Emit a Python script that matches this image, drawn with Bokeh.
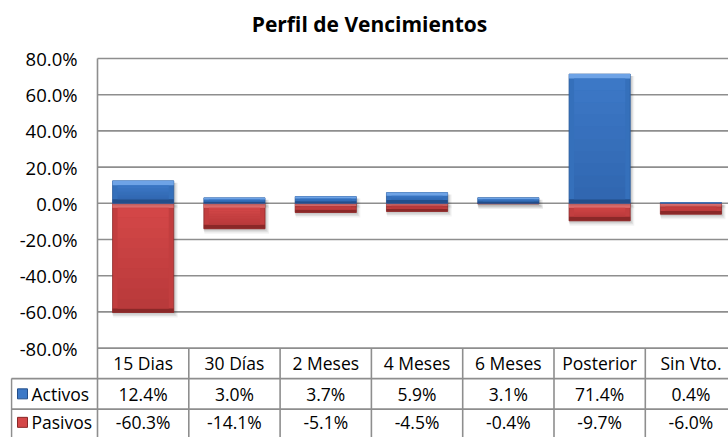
from bokeh.plotting import figure
from bokeh.models import Range1d
from bokeh.embed import file_html
from bokeh.resources import INLINE
from bokeh.core.properties import value
import numpy as np

# ---------------- data ----------------
categories = ["15 Dias", "30 Días", "2 Meses", "4 Meses", "6 Meses", "Posterior", "Sin Vto."]
activos = [12.4, 3.0, 3.7, 5.9, 3.1, 71.4, 0.4]
pasivos = [-60.3, -14.1, -5.1, -4.5, -0.4, -9.7, -6.0]
series_names = ["Activos", "Pasivos"]
y_ticks = [-80, -60, -40, -20, 0, 20, 40, 60, 80]
title_text = "Perfil de Vencimientos"

# ---------------- layout / styles (page pixels; the page has no margin) ----------------
FONT = "Open Sans"
TICK_SIZE = "18.5px"
CELL_SIZE = "17.5px"
GRID = "#8e8e8e"
FIG_W, FIG_H = 728, 437
COLW = 91.3            # px per category column
PXY = 1.81             # px per percentage point
LINE80 = 58            # page px of the 80% line
FRAME_TOP = 45
FRAME_LEFT = 10
AXIS_X = 97
FRAME_RIGHT = FIG_W
FRAME_BOTTOM = FIG_H
ROW_H = 30.5


def ypos(page_y):
    return 80 - (page_y - LINE80) / PXY


def xpos(page_x):
    return (page_x - AXIS_X) / COLW


BLUE = dict(body_hi="#3d79c7", body_lo="#3066b0", light="#6ea3e6",
            side="#3570bb", bottom="#234e8a", edge="#2a5a9c")
RED = dict(body_hi="#d44748", body_lo="#b8393a", light="#f27878",
           side="#c23e3f", bottom="#8a2828", edge="#8f2c2c")

n = len(categories)
xc = np.arange(n) + 0.5
bw = 0.67

p = figure(width=FIG_W, height=FIG_H, output_backend="svg", toolbar_location=None,
           x_range=Range1d(xpos(FRAME_LEFT), xpos(FRAME_RIGHT)),
           y_range=Range1d(ypos(FRAME_BOTTOM), ypos(FRAME_TOP)),
           x_axis_location=None, y_axis_location=None,
           min_border_left=FRAME_LEFT, min_border_right=0,
           min_border_top=FRAME_TOP, min_border_bottom=0)
p.outline_line_color = None
p.grid.visible = False
p.background_fill_color = "white"
p.border_fill_color = "white"

p.title.text = title_text
p.title.align = "center"
p.title.text_font = FONT
p.title.text_font_size = "21px"
p.title.text_font_style = "bold"
p.title.text_color = "black"
p.title.standoff = 15

x_end = n + 0.5
# value gridlines, axis line and tick labels
p.segment(x0=[0] * len(y_ticks), x1=[x_end] * len(y_ticks), y0=y_ticks, y1=y_ticks,
          line_color=GRID, line_width=1.6)
p.segment(x0=[0], x1=[0], y0=[80], y1=[ypos(FRAME_BOTTOM + 5)], line_color=GRID, line_width=1.6)
p.text(x=[xpos(AXIS_X - 20)] * len(y_ticks), y=y_ticks, text=[f"{t:.1f}%" for t in y_ticks],
       text_font=value(FONT), text_font_size=TICK_SIZE, text_align="right",
       text_baseline="middle", text_color="black")


def lerp(c1, c2, t):
    a = [int(c1[i:i + 2], 16) for i in (1, 3, 5)]
    b = [int(c2[i:i + 2], 16) for i in (1, 3, 5)]
    return "#%02x%02x%02x" % tuple(int(round(a[k] + (b[k] - a[k]) * t)) for k in range(3))


def bars(vals, col):
    v = np.array(vals, dtype=float)
    lo = np.minimum(v, 0)
    hi = np.maximum(v, 0)
    left = xc - bw / 2
    right = xc + bw / 2
    # soft shadow
    for k, a in ((5.0, 0.05), (3.5, 0.07), (2.0, 0.09)):
        p.quad(left=left - 0.01 + k / COLW * 0.3, right=right + k / COLW * 0.8,
               bottom=lo - k / PXY, top=hi - 2 / PXY,
               fill_color="#000000", fill_alpha=a, line_color=None)
    h = hi - lo
    d_top = np.minimum(4.5 / PXY, h * 0.3)
    d_bot = np.minimum(4.0 / PXY, h * 0.3)
    dx = 5.0 / COLW
    p.quad(left=left, right=right, bottom=lo, top=hi,
           fill_color=col["side"], line_color=col["edge"], line_width=0.8)
    p.quad(left=left, right=right, bottom=lo, top=lo + d_bot,
           fill_color=col["bottom"], line_color=None)
    p.quad(left=left, right=right, bottom=hi - d_top, top=hi,
           fill_color=col["light"], line_color=None)
    ib = lo + d_bot
    it = hi - d_top
    steps = 10
    for s in range(steps):
        t0 = s / steps
        t1 = (s + 1) / steps
        p.quad(left=left + dx, right=right - dx,
               bottom=it - (it - ib) * t1, top=it - (it - ib) * t0,
               fill_color=lerp(col["body_hi"], col["body_lo"], (t0 + t1) / 2), line_color=None)


bars(pasivos, RED)
bars(activos, BLUE)

# ---------------- data table ----------------
line_m80 = LINE80 + 160 * PXY
row0 = -80
row1 = ypos(line_m80 + ROW_H)
row2 = ypos(line_m80 + 2 * ROW_H)
yb = ypos(FRAME_BOTTOM + 5)
xl = xpos(FRAME_LEFT + 1)
vx = list(range(1, n + 1))
p.segment(x0=vx, x1=vx, y0=[row0] * n, y1=[yb] * n, line_color=GRID, line_width=1.6)
p.segment(x0=[xl, xl, xl], x1=[x_end, x_end, xl], y0=[row1, row2, row1], y1=[row1, row2, yb],
          line_color=GRID, line_width=1.6)

y_head = ypos(line_m80 + ROW_H * 0.5)
y_act = ypos(line_m80 + ROW_H * 1.5)
y_pas = ypos(line_m80 + ROW_H * 2.5 - 2)
p.text(x=xc, y=[y_head] * n, text=categories, text_font=value(FONT), text_font_size=CELL_SIZE,
       text_align="center", text_baseline="middle", text_color="black")
p.text(x=xc, y=[y_act] * n, text=[f"{v:.1f}%" for v in activos], text_font=value(FONT),
       text_font_size=CELL_SIZE, text_align="center", text_baseline="middle", text_color="black")
p.text(x=xc, y=[y_pas] * n, text=[f"{v:.1f}%" for v in pasivos], text_font=value(FONT),
       text_font_size=CELL_SIZE, text_align="center", text_baseline="middle", text_color="black")

mx = xpos(FRAME_LEFT + 12)
p.scatter(x=[mx, mx], y=[y_act, y_pas], marker="square", size=10,
          fill_color=[BLUE["body_hi"], RED["body_hi"]], line_color=[BLUE["bottom"], RED["bottom"]],
          line_width=1)
p.text(x=[xpos(FRAME_LEFT + 21)] * 2, y=[y_act, y_pas], text=series_names, text_font=value(FONT),
       text_font_size=CELL_SIZE, text_align="left", text_baseline="middle", text_color="black")

open("out.html", "w").write(file_html(p, INLINE))
